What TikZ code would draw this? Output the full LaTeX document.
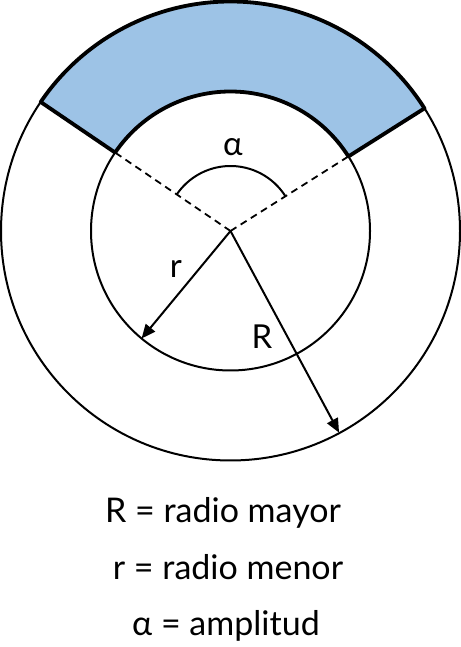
\documentclass[tikz,border=0pt]{standalone}
\usepackage{fontspec}
\setmainfont{Lato}
\usetikzlibrary{arrows.meta,calc}
\definecolor{sectorblue}{HTML}{9DC3E6}
\tikzset{
  circ/.style={line width=2pt},
  edge/.style={line width=3.8pt},
  dashline/.style={line width=1.8pt, dash pattern=on 7pt off 5pt},
  radius arrow/.style={line width=2pt, -{Triangle[length=14pt,width=12pt]}},
  lab/.style={font=\fontsize{33}{33}\selectfont, inner sep=0pt},
  legend/.style={font=\fontsize{34}{34}\selectfont, inner sep=0pt}
}
\begin{document}
\begin{tikzpicture}[x=1pt,y=1pt]
\useasboundingbox (0,0) rectangle (460,647);
\coordinate (C) at (230.5,416);
\path (C) ++(32.3:229.5) coordinate (oR) (C) ++(145.8:229.5) coordinate (oL)
      (C) ++(32.3:139.5) coordinate (iR) (C) ++(145.8:139.5) coordinate (iL);
% sector
\fill[sectorblue] (oR) arc[start angle=32.3, end angle=145.8, radius=229.5]
  -- (iL) arc[start angle=145.8, end angle=32.3, radius=139.5] -- cycle;
% circles
\draw[circ] (C) circle[radius=229.5];
\draw[circ] (C) circle[radius=139.5];
% thick sector boundary
\draw[edge, line join=round] (iL) -- (oL) arc[start angle=145.8, end angle=32.3, radius=229.5] -- (iR)
  arc[start angle=32.3, end angle=145.8, radius=139.5];
% dashed radii
\draw[dashline] (C) -- (iL);
\draw[dashline] (C) -- (iR);
% angle arc
\draw[circ] (C) ++(32.3:65) arc[start angle=32.3, end angle=145.8, radius=65];
\node[lab] (alpha) at (233,500) {α};
% radius arrows
\path (C) ++(230.4:139.5) coordinate (rEnd) (C) ++(-61.7:229) coordinate (REnd);
\draw[radius arrow] (C) -- (rEnd);
\draw[radius arrow] (C) -- (REnd);
\node[lab] (rl) at (176,378) {r};
\node[lab] (Rl) at (262,310) {R};
% legend
\node[legend] (l1) at (223,134) {R = radio mayor};
\node[legend] (l2) at (228,80) {r = radio menor};
\node[legend] (l3) at (226,21) {α = amplitud};
\end{tikzpicture}
\end{document}
